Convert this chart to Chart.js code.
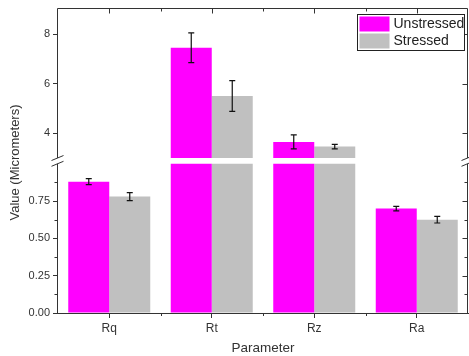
<!DOCTYPE html>
<html>
<head>
<meta charset="utf-8">
<script src="https://cdn.jsdelivr.net/npm/chart.js@4"></script>
<style>
  html, body { margin: 0; padding: 0; background: #fff; }
  #wrap { width: 469px; height: 356px; }
</style>
</head>
<body>
<div id="wrap"><canvas id="chart"></canvas></div>
<script>
"use strict";

// ── données ──
const categories     = ["Rq", "Rt", "Rz", "Ra"];
const unstressed     = [0.88, 7.45, 3.65, 0.70];
const unstressedErr  = [0.02, 0.60, 0.28, 0.015];
const stressed       = [0.78, 5.50, 3.46, 0.625];
const stressedErr    = [0.027, 0.62, 0.09, 0.022];
const lowerTicks      = [0, 0.25, 0.5, 0.75];
const lowerMinorTicks = [0.125, 0.375, 0.625, 0.875];
const upperTicks      = [4, 6, 8];

// coupure de l'axe
const LOW_TOP = 1.0, HIGH_BOTTOM = 3.0;

const FONT  = "'Liberation Sans', Arial, sans-serif";
const INK   = "#333";
const COL_U = "#ff00ff";
const COL_S = "#c0c0c0";

const lower = arr => arr.map(v => Math.min(v, LOW_TOP));
const upper = arr => arr.map(v => v > HIGH_BOTTOM ? v : null);

function line(ctx, x1, y1, x2, y2) {
    ctx.moveTo(x1, y1); ctx.lineTo(x2, y2);
}

// barres d'erreur, cadre, coupures, légende, titre Y
const decor = {
    id: "decor",
    afterDatasetsDraw(chart) {
        const { ctx, chartArea: a, scales: { x, yLow, yHigh } } = chart;
        const gTop = yHigh.getPixelForValue(HIGH_BOTTOM);
        const gBot = yLow.getPixelForValue(LOW_TOP);
        ctx.save();

        // erreurs
        ctx.strokeStyle = "#111";
        ctx.lineWidth = 1.2;
        [[unstressed, unstressedErr, 0], [stressed, stressedErr, 1]].forEach(([vals, errs, di]) => {
            const meta = chart.getDatasetMeta(di);
            vals.forEach((v, i) => {
                const sc = v > HIGH_BOTTOM ? yHigh : yLow;
                const bx = meta.data[i].x;
                const y1 = sc.getPixelForValue(v + errs[i]);
                const y2 = sc.getPixelForValue(v - errs[i]);
                ctx.beginPath();
                line(ctx, bx, y1, bx, y2);
                line(ctx, bx - 3, y1, bx + 3, y1);
                line(ctx, bx - 3, y2, bx + 3, y2);
                ctx.stroke();
            });
        });

        // cadre
        const L = Math.round(a.left) - 0.5, R = Math.round(a.right) - 0.5, T = Math.round(a.top) + 0.5;
        ctx.strokeStyle = INK;
        ctx.lineWidth = 1;
        ctx.beginPath();
        line(ctx, L, T, R, T);
        line(ctx, L, T, L, gTop);
        line(ctx, L, gBot, L, a.bottom);
        line(ctx, R, T, R, gTop);
        line(ctx, R, gBot, R, a.bottom);

        // graduations haut (vers l'intérieur)
        categories.forEach((c, i) => {
            const px = Math.round(x.getPixelForValue(i)) + 0.5;
            line(ctx, px, T, px, T + 5);
            if (i < categories.length - 1) {
                const mx = Math.round(x.getPixelForValue(i + 0.5)) + 0.5;
                line(ctx, mx, T, mx, T + 3);
                const by = a.bottom;
                line(ctx, mx, by, mx, by + 3);
            }
        });
        // graduations droite + mineures gauche
        lowerTicks.forEach(v => {
            const py = Math.round(yLow.getPixelForValue(v)) + 0.5;
            line(ctx, R, py, R - 5, py);
        });
        upperTicks.forEach(v => {
            const py = Math.round(yHigh.getPixelForValue(v)) + 0.5;
            line(ctx, R, py, R - 5, py);
        });
        lowerMinorTicks.forEach(v => {
            const py = Math.round(yLow.getPixelForValue(v)) + 0.5;
            line(ctx, R, py, R - 3, py);
            line(ctx, L, py, L - 3, py);
        });

        // marques de coupure
        [L, R].forEach(ax => {
            line(ctx, ax - 6, gTop + 2.5, ax + 6, gTop - 2.5);
            line(ctx, ax - 6, gBot + 2.5, ax + 6, gBot - 2.5);
        });
        ctx.stroke();

        // légende
        const ds = chart.data.datasets.slice(0, 2);
        const lw = 107, lh = 36;
        const lx = Math.round(a.right - 4 - lw) + 0.5, ly = Math.round(a.top + 6) + 0.5;
        ctx.fillStyle = "#fff";
        ctx.fillRect(lx, ly, lw, lh);
        ctx.strokeStyle = "#222";
        ctx.strokeRect(lx, ly, lw, lh);
        ctx.font = "14px " + FONT;
        ctx.textBaseline = "middle";
        ctx.textAlign = "left";
        ds.forEach((d, k) => {
            const sy = ly + 2 + k * 17;
            ctx.fillStyle = d.backgroundColor;
            ctx.fillRect(lx + 2, sy, 30, 15);
            ctx.fillStyle = "#222";
            ctx.fillText(d.label, lx + 36, sy + 8);
        });

        // titre axe Y
        ctx.translate(15, (a.top + a.bottom) / 2 + 2);
        ctx.rotate(-Math.PI / 2);
        ctx.textAlign = "center";
        ctx.fillStyle = INK;
        ctx.font = "13px " + FONT;
        ctx.fillText("Value (Micrometers)", 0, 0);
        ctx.restore();
    }
};

const yCommon = {
    type: "linear",
    position: "left",
    stack: "v",
    stackWeight: 1,
    stacked: false,
    grid: { drawOnChartArea: false, tickLength: 5, color: INK },
    border: { display: false },
    afterFit: s => { s.width = 58; s.paddingTop = 0; }
};

new Chart(document.getElementById("chart"), {
    type: "bar",
    data: {
        labels: categories,
        datasets: [
            { label: "Unstressed", data: lower(unstressed), backgroundColor: COL_U, yAxisID: "yLow",  stack: "u" },
            { label: "Stressed",   data: lower(stressed),   backgroundColor: COL_S, yAxisID: "yLow",  stack: "s" },
            { label: "Unstressed", data: upper(unstressed), backgroundColor: COL_U, yAxisID: "yHigh", stack: "u", base: HIGH_BOTTOM },
            { label: "Stressed",   data: upper(stressed),   backgroundColor: COL_S, yAxisID: "yHigh", stack: "s", base: HIGH_BOTTOM }
        ]
    },
    options: {
        responsive: true, maintainAspectRatio: false,
        animation: false,
        layout: { padding: { left: 0, right: 1, top: 8, bottom: 0 } },
        datasets: { bar: { categoryPercentage: 0.8, barPercentage: 1.0, borderWidth: 0 } },
        plugins: { legend: { display: false }, tooltip: { enabled: false } },
        scales: {
            x: {
                grid: { offset: false, drawOnChartArea: false, tickLength: 5, color: INK },
                border: { display: true, color: INK, width: 1 },
                ticks: { font: { family: FONT, size: 12 }, color: INK, padding: 3 },
                title: { display: true, text: "Parameter", font: { family: FONT, size: 13.5 }, color: INK, padding: { top: 2, bottom: 0 } },
                afterFit: s => { s.height = 43; }
            },
            yLow: {
                ...yCommon,
                min: 0, max: 1.022,
                afterBuildTicks: s => { s.ticks = lowerTicks.map(v => ({ value: v })); },
                ticks: { font: { family: FONT, size: 11 }, color: INK, padding: 3, callback: v => Number(v).toFixed(2) }
            },
            yHigh: {
                ...yCommon,
                min: 2.9, max: 9.05,
                afterBuildTicks: s => { s.ticks = upperTicks.map(v => ({ value: v })); },
                ticks: { font: { family: FONT, size: 11 }, color: INK, padding: 3, callback: v => String(v) }
            }
        }
    },
    plugins: [decor]
});
</script>
</body>
</html>
